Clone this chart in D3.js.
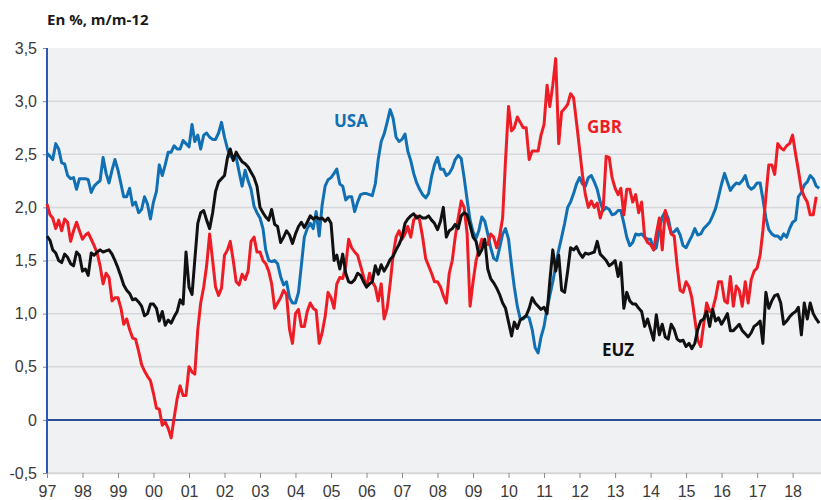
<!DOCTYPE html>
<html>
<head>
<meta charset="utf-8">
<script src="https://cdn.jsdelivr.net/npm/d3@7"></script>
<style>
  body { margin: 0; background: #fff; }
  svg { display: block; font-family: "Open Sans", "Noto Sans", sans-serif; }
</style>
</head>
<body>
<div class="chartDiv"></div>
<script>
// monthly values, y/y %, first point = Jan 1997
var usa = [
  2.51, 2.48, 2.45, 2.6, 2.55, 2.42, 2.41, 2.3, 2.27, 2.28, 2.17, 2.27,
  2.27, 2.27, 2.26, 2.14, 2.2, 2.23, 2.25, 2.47, 2.32, 2.23, 2.35, 2.45,
  2.35, 2.22, 2.1, 2.1, 2.18, 2.02, 2.05, 1.95, 1.98, 2.1, 2.03, 1.89,
  2.05, 2.15, 2.4, 2.3, 2.4, 2.52, 2.52, 2.58, 2.55, 2.55, 2.63, 2.6,
  2.57, 2.78, 2.62, 2.68, 2.55, 2.68, 2.7, 2.66, 2.64, 2.64, 2.7, 2.8,
  2.66, 2.55, 2.48, 2.46, 2.47, 2.33, 2.2, 2.35, 2.25, 2.17, 2.01, 1.95,
  1.9, 1.8, 1.6, 1.5, 1.49, 1.5, 1.47, 1.35, 1.27, 1.3, 1.15, 1.1,
  1.1, 1.2, 1.45, 1.72, 1.8, 1.85, 1.8, 1.96, 1.73, 2.02, 2.2, 2.26,
  2.28, 2.32, 2.36, 2.22, 2.2, 2.07, 2.1, 2.1, 1.96, 2.05, 2.12, 2.13,
  2.13, 2.12, 2.11, 2.22, 2.45, 2.62, 2.69, 2.8, 2.92, 2.84, 2.66, 2.62,
  2.64, 2.69, 2.53, 2.44, 2.32, 2.23, 2.17, 2.12, 2.09, 2.13, 2.29, 2.4,
  2.47, 2.36, 2.36, 2.3, 2.32, 2.37, 2.45, 2.49, 2.46, 2.28, 2.07, 1.88,
  1.77, 1.71, 1.78, 1.91, 1.87, 1.75, 1.62, 1.52, 1.5, 1.62, 1.75, 1.8,
  1.7, 1.45, 1.25, 1.07, 0.95, 0.95, 0.98, 0.96, 0.85, 0.68, 0.63, 0.78,
  0.88, 1.05, 1.17, 1.3, 1.45, 1.6, 1.72, 1.85, 2.0, 2.05, 2.13, 2.22,
  2.28, 2.22, 2.2, 2.28, 2.3, 2.24, 2.17, 2.05, 1.97, 2.0, 1.98, 1.93,
  1.94, 1.97, 1.97, 1.85, 1.72, 1.64, 1.67, 1.75, 1.74, 1.75, 1.72, 1.7,
  1.7, 1.6, 1.62, 1.8, 1.91, 1.96, 1.9, 1.76, 1.77, 1.8, 1.74, 1.64,
  1.62, 1.68, 1.73, 1.8, 1.74, 1.75, 1.8, 1.83, 1.86, 1.92, 1.99, 2.1,
  2.22, 2.32, 2.24, 2.16, 2.2, 2.23, 2.22, 2.25, 2.3, 2.2, 2.17, 2.19,
  2.23, 2.23, 2.08, 1.9, 1.79, 1.75, 1.73, 1.73, 1.7, 1.75, 1.72, 1.8,
  1.86, 1.88, 2.1, 2.14, 2.21, 2.24, 2.3, 2.27, 2.2, 2.18
];

var gbr = [
  2.03, 1.93, 1.9, 1.8, 1.88, 1.78, 1.89, 1.86, 1.68, 1.78, 1.86, 1.78,
  1.7, 1.74, 1.76, 1.7, 1.64, 1.57, 1.45, 1.28, 1.38, 1.34, 1.12, 1.15,
  1.15, 1.05, 0.9, 0.95, 0.85, 0.77, 0.76, 0.65, 0.52, 0.46, 0.41, 0.37,
  0.25, 0.11, 0.1, -0.05, -0.02, -0.08, -0.17, 0.02, 0.2, 0.32, 0.23, 0.23,
  0.5, 0.45, 0.43, 0.85, 1.1, 1.25, 1.45, 1.75, 1.5, 1.25, 1.17, 1.24,
  1.55, 1.6, 1.68, 1.5, 1.3, 1.27, 1.37, 1.32, 1.4, 1.68, 1.72, 1.58,
  1.58, 1.5, 1.47, 1.4, 1.28, 1.05, 1.1, 1.15, 1.22, 1.18, 0.85, 0.72,
  1.0, 1.04, 0.88, 0.88, 1.02, 1.1, 1.05, 1.03, 0.72, 0.82, 0.97, 1.2,
  1.15, 1.05, 1.28, 1.34, 1.33, 1.45, 1.7, 1.62, 1.58, 1.55, 1.45, 1.35,
  1.25, 1.38, 1.3, 1.25, 1.12, 1.28, 0.95, 1.05, 1.28, 1.55, 1.72, 1.78,
  1.7, 1.75, 1.82, 1.72, 1.88, 1.92, 1.88, 1.72, 1.52, 1.45, 1.38, 1.3,
  1.3, 1.25, 1.17, 1.1, 1.38, 1.5, 1.72, 1.9, 2.06, 2.0, 1.75, 1.07,
  1.3, 1.5, 1.6, 1.7, 1.67, 1.65, 1.75, 1.72, 1.62, 1.73, 1.9, 2.45,
  2.95, 2.72, 2.75, 2.85, 2.8, 2.75, 2.75, 2.45, 2.53, 2.53, 2.53, 2.68,
  2.78, 3.15, 2.95, 3.15, 3.4, 2.6, 2.9, 2.93, 2.97, 3.07, 3.03, 2.8,
  2.55, 2.3, 2.12, 2.0, 2.06, 2.0, 2.04, 1.9, 2.0, 2.48, 2.47, 2.28,
  2.18, 2.12, 2.18, 1.93, 2.17, 2.17, 2.05, 2.12, 1.95, 2.05, 1.72, 1.67,
  1.65, 1.6, 1.75, 1.9, 1.6, 1.97, 1.85, 1.75, 1.73, 1.45, 1.22, 1.2,
  1.3, 1.25, 1.15, 0.95, 0.75, 0.69, 0.9, 1.1, 1.02, 1.04, 1.15, 1.3,
  1.3, 1.12, 1.1, 1.35, 1.07, 1.26, 1.22, 1.07, 1.3, 1.1, 1.32, 1.4,
  1.43, 1.55, 1.78, 2.1, 2.4, 2.4, 2.31, 2.6, 2.56, 2.54, 2.58, 2.6,
  2.68, 2.5, 2.35, 2.17, 2.1, 2.05, 1.93, 1.93, 2.1
];

var euz = [
  1.73, 1.69, 1.6, 1.57, 1.5, 1.48, 1.56, 1.53, 1.47, 1.45, 1.58, 1.55,
  1.4, 1.42, 1.36, 1.57, 1.55, 1.58, 1.6, 1.58, 1.59, 1.6, 1.56, 1.5,
  1.43, 1.35, 1.27, 1.22, 1.19, 1.13, 1.14, 1.11, 1.07, 0.98, 1.0, 1.09,
  1.09, 1.05, 0.93, 1.02, 0.89, 0.94, 0.91, 0.97, 1.02, 1.13, 1.09, 1.58,
  1.25, 1.18, 1.5, 1.85, 1.95, 1.97, 1.88, 1.8, 1.95, 2.15, 2.24, 2.27,
  2.3, 2.47, 2.55, 2.44, 2.52, 2.47, 2.43, 2.41, 2.38, 2.33, 2.28, 2.2,
  2.0, 1.95, 1.91, 1.88, 1.98, 1.84, 1.82, 1.67, 1.72, 1.78, 1.74, 1.66,
  1.75, 1.82, 1.86, 1.81, 1.86, 1.92, 1.89, 1.91, 1.89, 1.9, 1.87, 1.9,
  1.85, 1.5, 1.55, 1.42, 1.56, 1.38, 1.3, 1.29, 1.32, 1.38, 1.36, 1.3,
  1.25, 1.28, 1.3, 1.45, 1.37, 1.46, 1.4, 1.45, 1.51, 1.54, 1.6, 1.65,
  1.72, 1.85, 1.89, 1.92, 1.94, 1.9, 1.92, 1.9, 1.9, 1.92, 1.88, 1.85,
  1.79, 1.87, 2.0, 1.72, 1.78, 1.8, 1.84, 1.8, 1.92, 1.95, 1.93, 1.83,
  1.72, 1.68, 1.55, 1.6, 1.7, 1.42, 1.33, 1.29, 1.24, 1.18, 1.1, 1.05,
  0.92, 0.79, 0.92, 0.86, 0.94, 0.96, 0.98, 1.05, 1.15, 1.1, 1.07, 1.04,
  1.06, 1.0, 1.3, 1.6, 1.4, 1.55, 1.22, 1.2, 1.4, 1.62, 1.6, 1.63,
  1.57, 1.53, 1.57, 1.56, 1.57, 1.58, 1.68, 1.56, 1.53, 1.5, 1.45, 1.47,
  1.5, 1.35, 1.48, 1.05, 1.2, 1.12, 1.09, 1.09, 1.05, 1.02, 0.88, 0.95,
  0.85, 0.75, 0.99, 0.8, 0.9, 0.78, 0.76, 0.9, 0.85, 0.76, 0.74, 0.75,
  0.69, 0.72, 0.67, 0.72, 0.85, 0.93, 0.95, 1.02, 0.88, 1.04, 0.93, 0.96,
  0.9, 0.95, 1.0, 0.84, 0.84, 0.87, 0.9, 0.84, 0.81, 0.78, 0.82, 0.88,
  0.9, 0.93, 0.72, 1.2, 1.05, 1.12, 1.17, 1.18, 1.1, 0.9, 0.93, 0.97,
  1.0, 1.02, 1.06, 0.8, 1.1, 0.95, 1.1, 1.0, 0.95, 0.91
];

var yTicks = [-0.5, 0, 0.5, 1, 1.5, 2, 2.5, 3, 3.5];
var yearTicks = d3.range(1997, 2019);

var series = [
  {name: 'USA', values: usa, color: '#1170b4', lx: 334, ly: 127},
  {name: 'GBR', values: gbr, color: '#ee1c25', lx: 587, ly: 133},
  {name: 'EUZ', values: euz, color: '#111111', lx: 602, ly: 356}
];

const width = 821;
const height = 500;
const margin = {top: 48, right: 0, bottom: 27, left: 47};

var svg = d3.select('.chartDiv')
  .append('svg')
  .attr('width', width)
  .attr('height', height);

var x = d3.scaleTime()
  .domain([new Date(1997, 0, 1), new Date(2018, 9, 20)])
  .range([margin.left, width - margin.right]);

var y = d3.scaleLinear()
  .domain([-0.5, 3.5])
  .range([height - margin.bottom, margin.top]);

var fmt = d => d === 0 ? '0' : d.toFixed(1).replace('.', ',');

// plot background
svg.append('rect')
  .attr('x', margin.left)
  .attr('y', margin.top)
  .attr('width', width - margin.right - margin.left)
  .attr('height', y(-0.5) - margin.top)
  .attr('fill', '#f0f1f3');

// gridlines
svg.append('g')
  .selectAll('line')
  .data(yTicks.filter(d => d !== 0 && d !== 3.5))
  .enter()
  .append('line')
  .attr('x1', margin.left)
  .attr('x2', width - margin.right)
  .attr('y1', d => y(d))
  .attr('y2', d => y(d))
  .attr('stroke', '#d6d8db')
  .attr('stroke-width', 1.5);

// x axis
var xAxis = svg.append('g')
  .attr('transform', 'translate(0,' + y(-0.5) + ')')
  .call(d3.axisBottom(x)
    .tickValues(yearTicks.map(yr => new Date(yr, 0, 1)))
    .tickSize(5)
    .tickSizeOuter(0)
    .tickPadding(8)
    .tickFormat(d3.timeFormat('%y')));
xAxis.select('.domain').attr('stroke', '#d6d8db').attr('stroke-width', 1.5);
xAxis.selectAll('.tick line').attr('stroke', '#8a8a8a');
xAxis.selectAll('.tick text')
  .attr('fill', '#3a3a3a')
  .style('font-size', '16px');

// y axis
var yAxis = svg.append('g')
  .attr('transform', 'translate(' + margin.left + ',0)')
  .call(d3.axisLeft(y)
    .tickValues(yTicks)
    .tickSize(4)
    .tickSizeOuter(0)
    .tickPadding(6)
    .tickFormat(fmt));
yAxis.select('.domain').remove();
yAxis.selectAll('.tick line').attr('stroke', '#8a8a8a');
yAxis.selectAll('.tick text')
  .attr('fill', '#3a3a3a')
  .style('font-size', '16px');

// zero line
svg.append('line')
  .attr('x1', margin.left)
  .attr('x2', width - margin.right)
  .attr('y1', y(0))
  .attr('y2', y(0))
  .attr('stroke', '#2a4d96')
  .attr('stroke-width', 2);

// left axis line
svg.append('line')
  .attr('x1', margin.left)
  .attr('x2', margin.left)
  .attr('y1', margin.top)
  .attr('y2', y(-0.5))
  .attr('stroke', '#2d57b5')
  .attr('stroke-width', 2);

var line = d3.line()
  .x((d, i) => x(new Date(1997, i, 1)))
  .y(d => y(d));

svg.append('g')
  .selectAll('path')
  .data(series)
  .enter()
  .append('path')
  .attr('d', d => line(d.values))
  .attr('fill', 'none')
  .attr('stroke', d => d.color)
  .attr('stroke-width', 3)
  .attr('stroke-linejoin', 'round');

svg.append('g')
  .selectAll('text')
  .data(series)
  .enter()
  .append('text')
  .attr('x', d => d.lx)
  .attr('y', d => d.ly)
  .attr('fill', d => d.color)
  .style('font-size', '17px')
  .style('font-weight', 'bold')
  .text(d => d.name);

svg.append('text')
  .attr('x', margin.left)
  .attr('y', 25)
  .attr('fill', '#1a1a1a')
  .style('font-size', '15px')
  .style('font-weight', 'bold')
  .text('En %, m/m-12');
</script>
</body>
</html>
